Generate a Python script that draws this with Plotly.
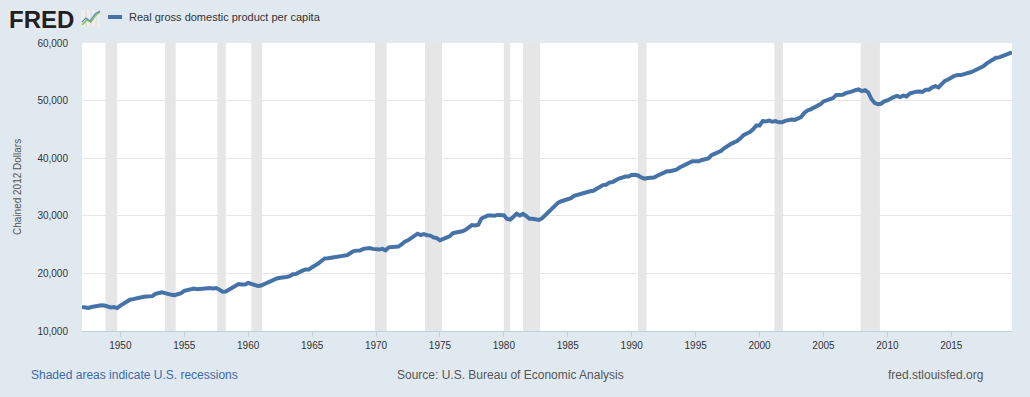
import plotly.graph_objects as go
import pandas as pd

# Real GDP per capita, chained 2012 dollars, quarterly 1947Q1 - 2019Q4
gdp_per_capita = [
    14171, 14086, 13998, 14163,  # 1947
    14294, 14462, 14470, 14416,  # 1948
    14171, 14090, 14165, 13984,  # 1949
    14404, 14752, 15196, 15436,  # 1950
    15530, 15675, 15897, 15894,  # 1951
    16002, 15967, 16052, 16456,  # 1952
    16668, 16734, 16582, 16349,  # 1953
    16283, 16233, 16365, 16586,  # 1954
    16958, 17140, 17303, 17372,  # 1955
    17262, 17332, 17277, 17407,  # 1956
    17476, 17380, 17451, 17164,  # 1957
    16815, 16870, 17200, 17504,  # 1958
    17747, 18139, 18062, 18069,  # 1959
    18352, 18175, 18160, 17828,  # 1960
    17905, 18169, 18428, 18771,  # 1961
    18961, 19119, 19253, 19244,  # 1962
    19376, 19528, 19862, 19918,  # 1963
    20289, 20472, 20682, 20667,  # 1964
    21071, 21328, 21749, 22197,  # 1965
    22611, 22627, 22734, 22857,  # 1966
    22969, 22950, 23079, 23166,  # 1967
    23540, 23872, 23954, 23977,  # 1968
    24260, 24304, 24399, 24255,  # 1969
    24162, 24135, 24260, 24005,  # 1970
    24519, 24553, 24657, 24660,  # 1971
    25018, 25515, 25740, 26133,  # 1972
    26668, 26898, 26659, 26825,  # 1973
    26605, 26565, 26254, 26122,  # 1974
    25741, 25890, 26217, 26433,  # 1975
    26975, 27101, 27165, 27322,  # 1976
    27561, 27963, 28385, 28339,  # 1977
    28434, 29541, 29741, 30044,  # 1978
    30052, 29997, 30154, 30137,  # 1979
    30111, 29458, 29350, 29852,  # 1980
    30352, 30058, 30359, 29963,  # 1981
    29487, 29501, 29331, 29285,  # 1982
    29585, 30169, 30727, 31268,  # 1983
    31816, 32295, 32530, 32705,  # 1984
    32903, 33049, 33450, 33634,  # 1985
    33813, 33909, 34119, 34258,  # 1986
    34347, 34621, 34865, 35325,  # 1987
    35385, 35755, 35864, 36203,  # 1988
    36466, 36638, 36822, 36812,  # 1989
    37094, 37135, 37000, 36647,  # 1990
    36452, 36569, 36617, 36638,  # 1991
    36963, 37203, 37446, 37722,  # 1992
    37728, 37871, 38014, 38390,  # 1993
    38651, 39046, 39164, 39461,  # 1994
    39484, 39470, 39697, 39850,  # 1995
    39961, 40532, 40812, 41153,  # 1996
    41290, 41771, 42221, 42474,  # 1997
    42747, 42973, 43444, 43994,  # 1998
    44293, 44527, 45012, 45687,  # 1999
    45694, 46453, 46393, 46534,  # 2000
    46321, 46439, 46222, 46240,  # 2001
    46491, 46620, 46708, 46658,  # 2002
    46823, 47143, 47872, 48285,  # 2003
    48481, 48745, 49030, 49346,  # 2004
    49845, 50001, 50311, 50436,  # 2005
    50985, 51020, 50994, 51294,  # 2006
    51385, 51612, 51801, 51943,  # 2007
    51645, 51809, 51450, 50278,  # 2008
    49590, 49366, 49439, 49874,  # 2009
    50019, 50385, 50616, 50820,  # 2010
    50611, 50854, 50710, 51218,  # 2011
    51435, 51552, 51567, 51522,  # 2012
    51892, 51891, 52269, 52519,  # 2013
    52291, 52822, 53412, 53656,  # 2014
    54075, 54311, 54455, 54431,  # 2015
    54604, 54703, 54913, 55134,  # 2016
    55378, 55575, 55940, 56414,  # 2017
    56757, 57140, 57431, 57499,  # 2018
    57761, 57949, 58217, 58392,  # 2019
]
quarters = pd.date_range("1947-01-01", periods=len(gdp_per_capita), freq="QS").strftime("%Y-%m-%d").tolist()

recession_starts = ["1948-11-01", "1953-07-01", "1957-08-01", "1960-04-01", "1969-12-01",
                    "1973-11-01", "1980-01-01", "1981-07-01", "1990-07-01", "2001-03-01", "2007-12-01"]
recession_ends = ["1949-10-01", "1954-05-01", "1958-04-01", "1961-02-01", "1970-11-01",
                  "1975-03-01", "1980-07-01", "1982-11-01", "1991-03-01", "2001-11-01", "2009-06-01"]

x_ticks = [f"{y}-01-01" for y in range(1950, 2020, 5)]
x_tick_labels = [str(y) for y in range(1950, 2020, 5)]
y_ticks = [10000, 20000, 30000, 40000, 50000, 60000]

W, H = 1030, 397
L, R, T, B = 82, 18, 43, 66
PW, PH = W - L - R, H - T - B

def px(x):
    return (x - L) / PW

def py(y):
    return (H - B - y) / PH

LINE_COLOR = "#4572A7"
FONT = "Liberation Sans, Arial, sans-serif"

fig = go.Figure()
fig.add_trace(go.Scatter(
    x=quarters, y=gdp_per_capita, mode="lines",
    line=dict(color=LINE_COLOR, width=4),
    name="Real gross domestic product per capita",
    showlegend=False,
))

shapes = []
for s, e in zip(recession_starts, recession_ends):
    shapes.append(dict(type="rect", xref="x", yref="paper", x0=s, x1=e, y0=0, y1=1,
                       fillcolor="#E6E6E6", line=dict(width=0), layer="below"))

# legend swatch
shapes.append(dict(type="line", xref="paper", yref="paper", x0=px(108), x1=px(122),
                   y0=py(17), y1=py(17), line=dict(color=LINE_COLOR, width=4)))
# FRED logo icon
shapes.append(dict(type="rect", xref="paper", yref="paper", x0=px(81), x1=px(100),
                   y0=py(27), y1=py(10), fillcolor="#EEEEEE", line=dict(width=0)))
for gx in [86, 91, 96]:
    shapes.append(dict(type="line", xref="paper", yref="paper", x0=px(gx), x1=px(gx),
                       y0=py(27), y1=py(10), line=dict(color="#D8D8D8", width=1)))
shapes.append(dict(type="path", xref="paper", yref="paper",
                   path=f"M {px(82)},{py(25)} L {px(87)},{py(20)} L {px(91)},{py(22)} L {px(95)},{py(16)} L {px(100)},{py(12)}",
                   line=dict(color="#8DBE4F", width=1.5)))
shapes.append(dict(type="path", xref="paper", yref="paper",
                   path=f"M {px(82)},{py(22)} L {px(86)},{py(18)} L {px(90)},{py(21)} L {px(95)},{py(14)} L {px(100)},{py(11)}",
                   line=dict(color="#4A90C8", width=1.2)))

annotations = [
    dict(text="<b>FRED</b>", xref="paper", yref="paper", x=px(7), y=py(19), xanchor="left",
         yanchor="middle", showarrow=False, font=dict(family=FONT, size=24, color="#231F20")),
    dict(text="Real gross domestic product per capita", xref="paper", yref="paper", x=px(127), y=py(17),
         xanchor="left", yanchor="middle", showarrow=False, font=dict(family=FONT, size=11, color="#333333")),
    dict(text="Chained 2012 Dollars", xref="paper", yref="paper", x=px(17), y=py(187), textangle=-90,
         xanchor="center", yanchor="middle", showarrow=False, font=dict(family=FONT, size=10, color="#555555")),
    dict(text="Shaded areas indicate U.S. recessions", xref="paper", yref="paper", x=px(29), y=py(375),
         xanchor="left", yanchor="middle", showarrow=False, font=dict(family=FONT, size=12, color="#3D6AA8")),
    dict(text="Source: U.S. Bureau of Economic Analysis", xref="paper", yref="paper", x=px(510), y=py(375),
         xanchor="center", yanchor="middle", showarrow=False, font=dict(family=FONT, size=12, color="#555555")),
    dict(text="fred.stlouisfed.org", xref="paper", yref="paper", x=px(985), y=py(375),
         xanchor="right", yanchor="middle", showarrow=False, font=dict(family=FONT, size=12, color="#555555")),
]

fig.update_layout(
    width=W, height=H,
    margin=dict(l=L, r=R, t=T, b=B, pad=0),
    paper_bgcolor="#E1E9F0", plot_bgcolor="#FFFFFF",
    font=dict(family=FONT, size=10, color="#333333"),
    shapes=shapes, annotations=annotations,
    xaxis=dict(type="date", range=["1947-01-01", "2019-10-01"],
               tickmode="array", tickvals=x_ticks, ticktext=x_tick_labels,
               ticks="outside", ticklen=5, tickcolor="#C0D0E0", tickwidth=1,
               showline=True, linecolor="#C0D0E0", linewidth=1,
               showgrid=False, zeroline=False,
               tickfont=dict(size=10, color="#333333")),
    yaxis=dict(range=[10000, 60000], tickmode="array", tickvals=y_ticks, tickformat=",",
               showgrid=True, gridcolor="#E6E6E6", gridwidth=1, zeroline=False,
               showline=False, ticks="", ticklabelstandoff=13,
               tickfont=dict(size=10, color="#333333")),
)

fig.write_html("out.html", config={"displayModeBar": False})

# remove default page margin so the figure fills the window exactly
with open("out.html", "r", encoding="utf-8") as f:
    html = f.read()
html = html.replace("<head>", "<head><style>html,body{margin:0;padding:0;overflow:hidden;}</style>", 1)
with open("out.html", "w", encoding="utf-8") as f:
    f.write(html)
